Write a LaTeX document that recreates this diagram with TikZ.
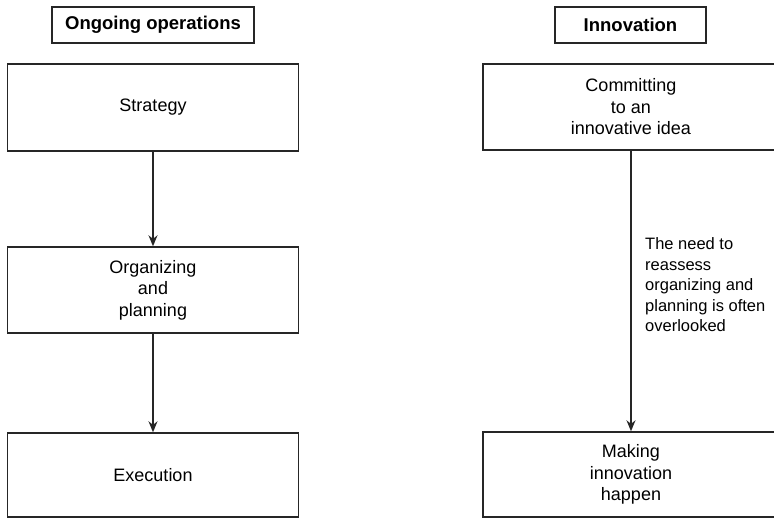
\documentclass[tikz,border=0pt]{standalone}
\usepackage{fontspec}
\setmainfont{Liberation Sans}
\usetikzlibrary{arrows.meta}
\begin{document}
\begin{tikzpicture}[x=1pt,y=-1pt,
  box/.style={draw=black!85, line width=1.4pt, inner sep=0pt, align=center,
    font=\fontsize{18}{21.5}\selectfont},
  head/.style={draw=black!85, line width=1.4pt, inner sep=0pt,
    font=\bfseries\fontsize{18.5}{22}\selectfont},
  flow/.style={draw=black!85, line width=1.4pt, -{Stealth[length=11pt,width=9pt]}},
  note/.style={anchor=west, align=left, inner sep=0pt,
    font=\fontsize{16.5}{20.5}\selectfont}]
\useasboundingbox (0,0) rectangle (774,518);

% left column: ongoing operations
\node[head, minimum width=202pt, minimum height=36pt] (ops) at (153,25) {Ongoing operations};
\node[box, minimum width=291pt, minimum height=87pt] (strat) at (153,107.5) {Strategy};
\node[box, minimum width=291pt, minimum height=86pt] (org) at (153,290) {Organizing\\and\\planning};
\node[box, minimum width=291pt, minimum height=84pt] (exec) at (153,475) {Execution};

% right column: innovation (boxes run past the right edge)
\node[head, minimum width=151pt, minimum height=36pt] (innov) at (630.5,25) {Innovation};
\node[box, minimum width=296pt, minimum height=86pt] (commit) at (631,107) {Committing\\to an\\innovative idea};
\node[box, minimum width=296pt, minimum height=85pt] (make) at (631,474.5) {Making\\innovation\\happen};

\node[note] (need) at (645,285) {The need to\\reassess\\organizing and\\planning is often\\overlooked};

% connectors
\draw[flow] (strat) -- (org);
\draw[flow] (org) -- (exec);
\draw[flow] (commit) -- (make);
\end{tikzpicture}
\end{document}
